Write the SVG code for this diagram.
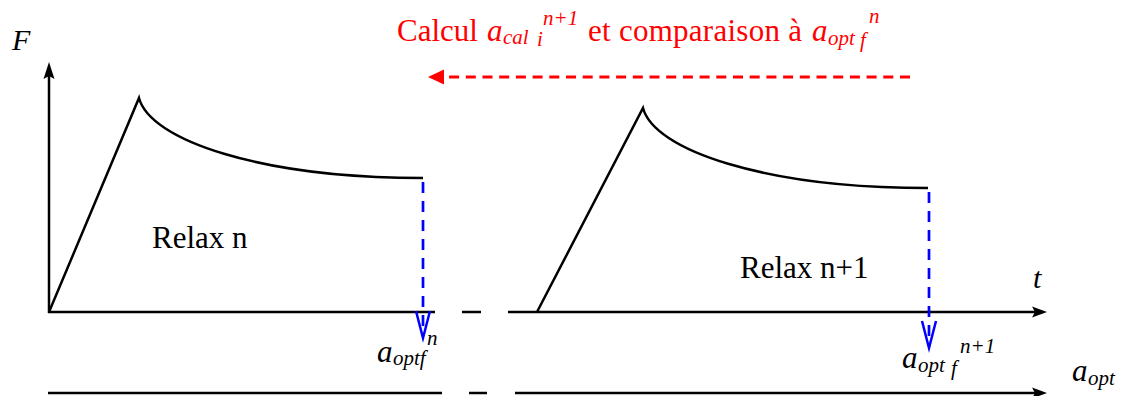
<svg xmlns="http://www.w3.org/2000/svg" width="1122" height="396" viewBox="0 0 1122 396">
<style>
.ax{stroke:#000;stroke-width:2.5;fill:none}
.cv{stroke:#000;stroke-width:2.5;fill:none;stroke-linejoin:miter}
.hd{fill:#000;stroke:none}
.bl{stroke:#0000ff;stroke-width:2.7;fill:none;stroke-dasharray:11 8}
.bh{stroke:#0000ff;stroke-width:2.5;fill:none}
.rd{stroke:#ff0000;stroke-width:3;fill:none;stroke-dasharray:10 6.7}
.it{font-style:italic}
.red{fill:#ff0000}
.big{font-size:31px}
.sm{font-size:21px}
</style>
<rect width="1122" height="396" fill="#fff"/>
<g id="axes">
<line class="ax" x1="49" y1="313" x2="49" y2="70"/>
<path class="hd" d="M49,62 L54.5,79 L49,76 L43.5,79 Z"/>
<line class="ax" x1="48" y1="312" x2="435" y2="312"/>
<line class="ax" x1="462" y1="312" x2="481" y2="312"/>
<line class="ax" x1="508" y1="312" x2="1040" y2="312"/>
<path class="hd" d="M1047,312 L1032,306.5 L1035,312 L1032,317.5 Z"/>
<line class="ax" x1="48" y1="393" x2="442" y2="393"/>
<line class="ax" x1="469" y1="393" x2="487" y2="393"/>
<line class="ax" x1="515" y1="393" x2="1040" y2="393"/>
<path class="hd" d="M1047,393 L1032,387.5 L1035,393 L1032,398.5 Z"/>
</g>
<g id="relax-n">
<path class="cv" d="M49,312 L139,98 C150,140 260,178 423,178"/>
<text font-family="Liberation Serif, DejaVu Serif, serif" class="big" x="152" y="248">Relax n</text>
</g>
<g id="relax-n1">
<path class="cv" d="M537,312 L643,108 C654,150 764,188 928,188"/>
<text font-family="Liberation Serif, DejaVu Serif, serif" class="big" x="740" y="278">Relax n+1</text>
</g>
<g id="connectors">
<line class="bl" x1="423" y1="182" x2="423" y2="335"/>
<polyline class="bh" points="416,311 423,338 430,311"/>
<line class="bl" x1="929" y1="192" x2="929" y2="345"/>
<polyline class="bh" points="922,321 929,348 936,321"/>
<line class="rd" x1="910" y1="77" x2="444" y2="77"/>
<path fill="#ff0000" d="M428,77 L444,69.5 L444,84.5 Z"/>
</g>
<g id="labels" font-family="Liberation Serif, DejaVu Serif, serif">
<text class="it" font-size="30" x="12" y="50">F</text>
<text class="it" font-size="30" x="1033" y="288">t</text>
<text class="it big" x="377" y="362">a</text>
<text class="it sm" x="393" y="365">optf</text>
<text class="it sm" x="427" y="345">n</text>
<text class="it big" x="902" y="368">a</text>
<text class="it sm" x="918" y="372">opt</text>
<text class="it sm" x="951" y="375">f</text>
<text class="it sm" x="960" y="353">n+1</text>
<text class="it big" x="1072" y="381">a</text>
<text class="it sm" x="1088" y="385">opt</text>
</g>
<g id="title" font-family="Liberation Serif, DejaVu Serif, serif">
<text class="big red" x="397" y="41">Calcul</text>
<text class="big red it" x="487" y="41">a</text>
<text class="sm red it" x="503" y="44">cal</text>
<text class="sm red it" x="537" y="46">i</text>
<text class="sm red it" x="543" y="25">n+1</text>
<text class="big red" x="588" y="41" textLength="214" lengthAdjust="spacing">et comparaison à</text>
<text class="big red it" x="812" y="41">a</text>
<text class="sm red it" x="828" y="45">opt</text>
<text class="sm red it" x="860" y="47">f</text>
<text class="sm red it" x="869" y="23">n</text>
</g>
</svg>
